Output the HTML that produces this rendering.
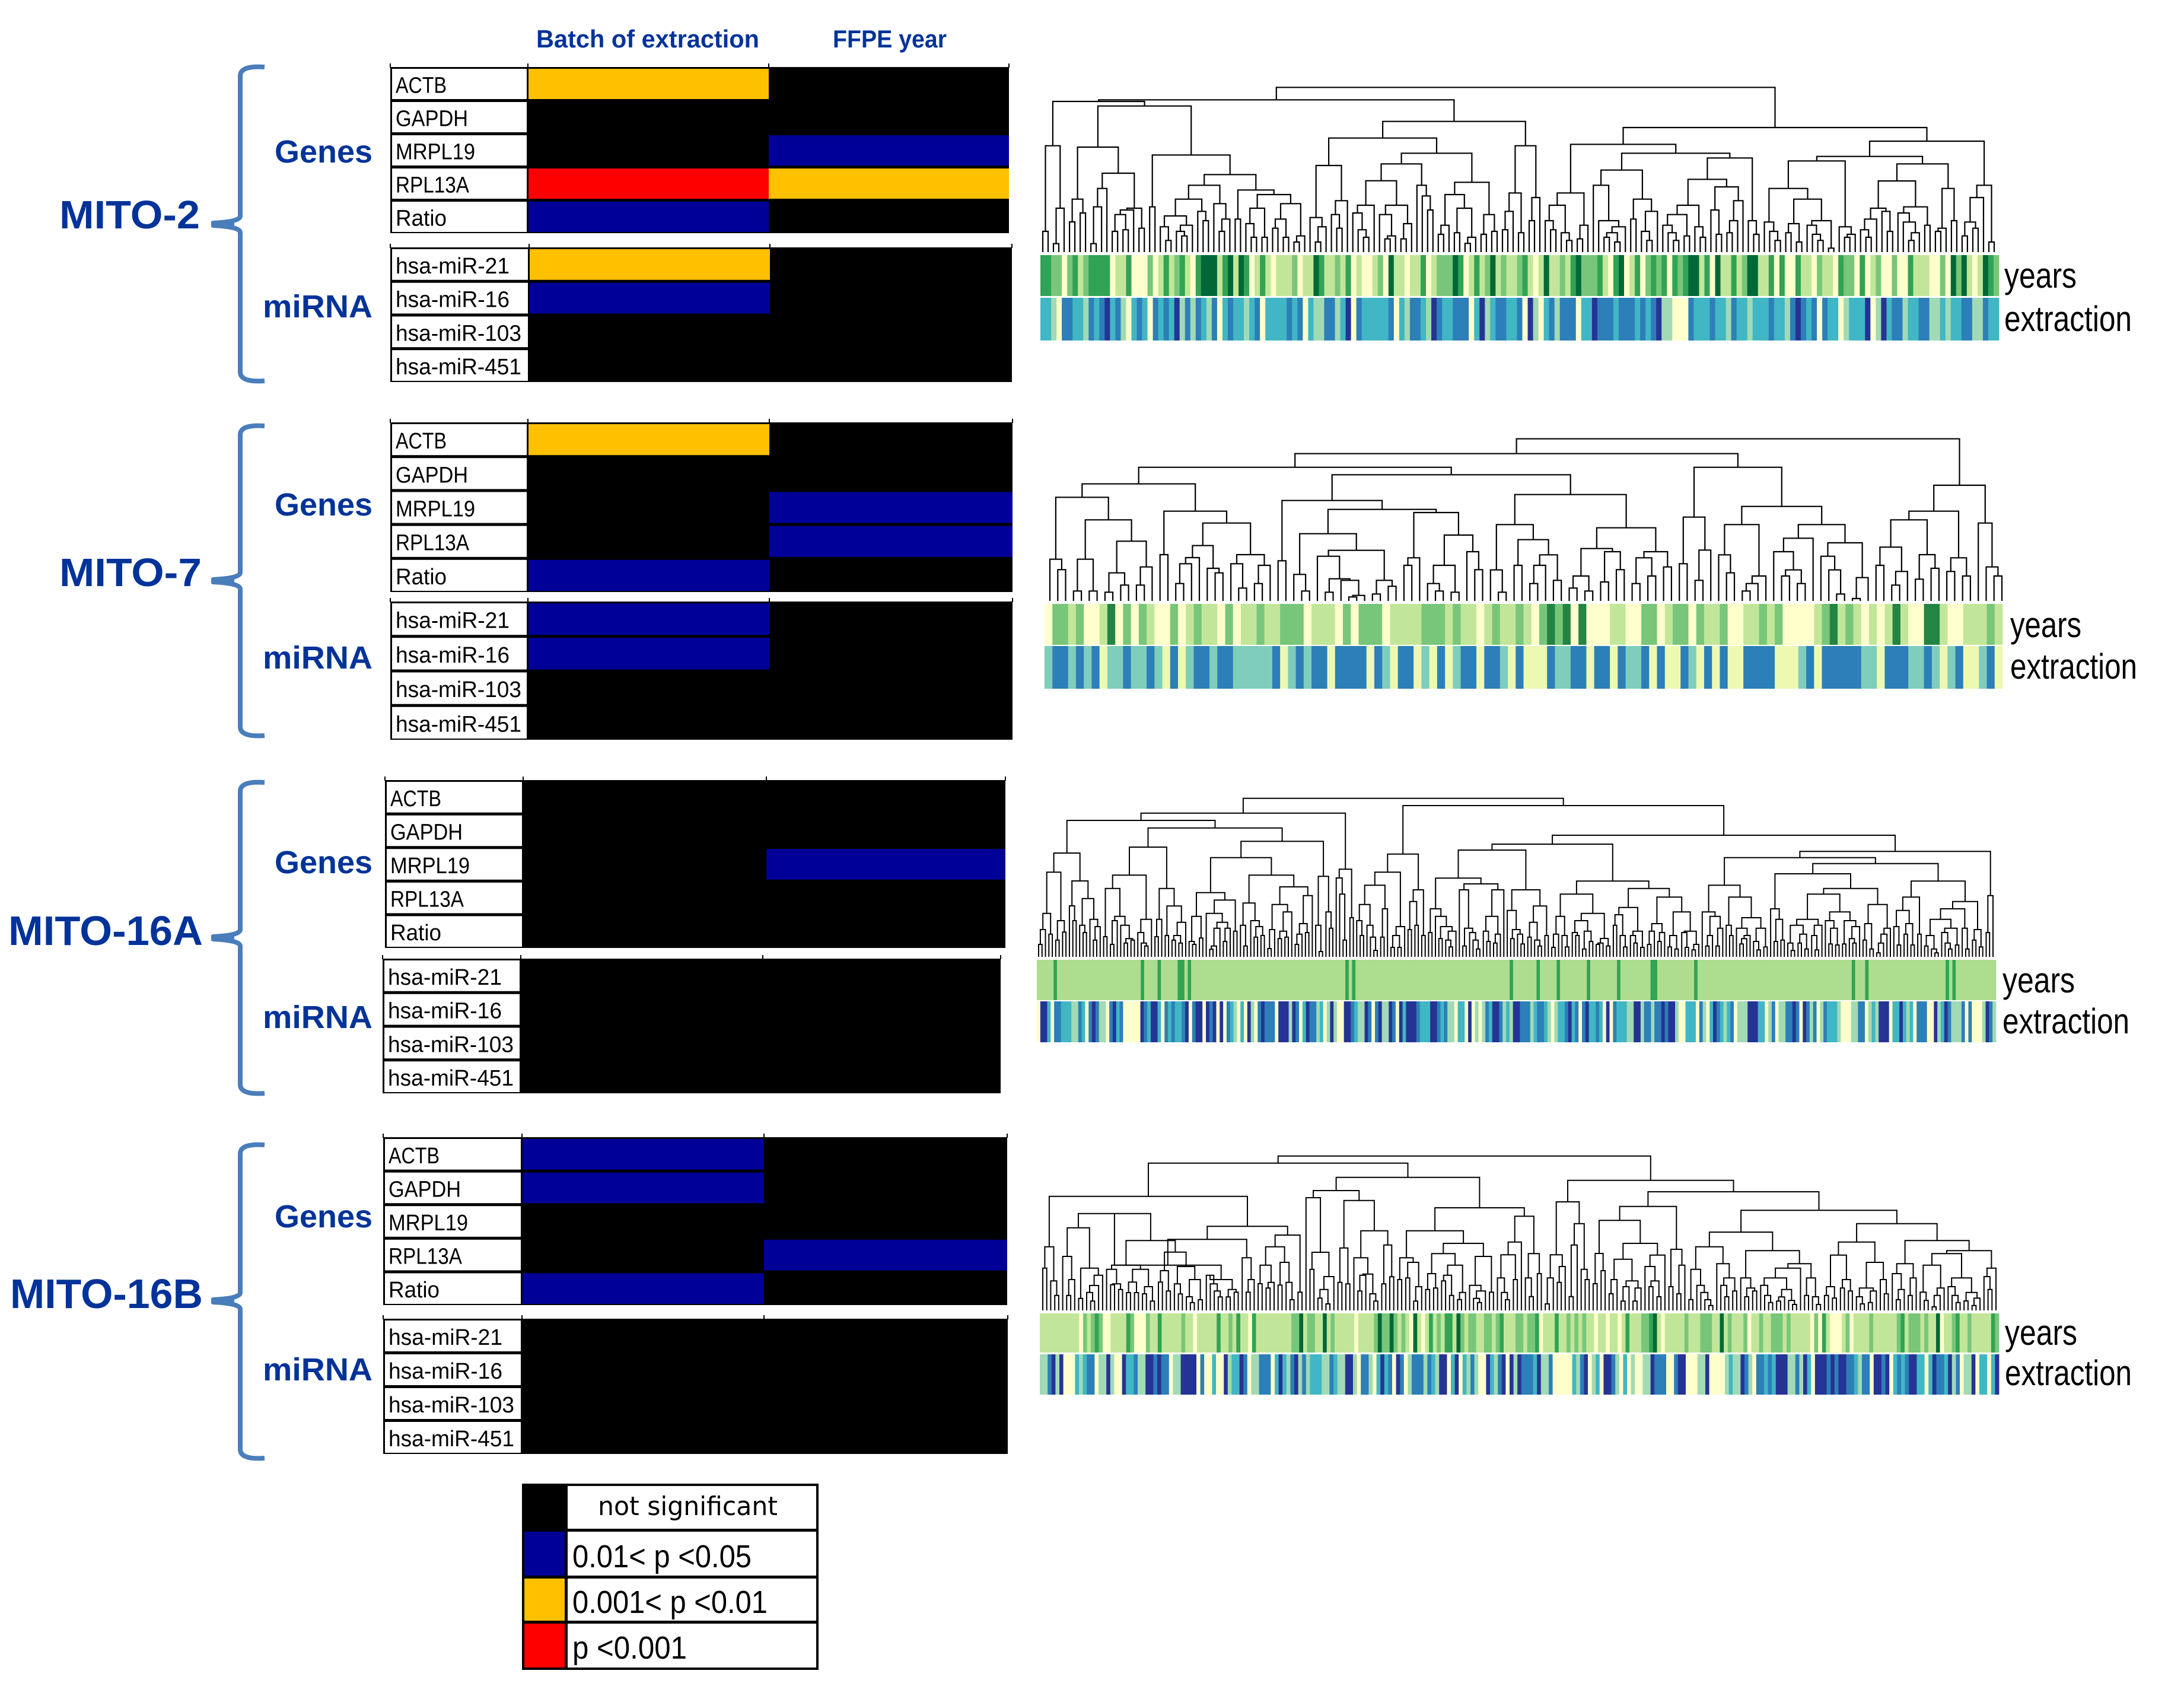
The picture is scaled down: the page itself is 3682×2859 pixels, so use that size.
<!DOCTYPE html>
<html lang="en">
<head>
<meta charset="utf-8">
<title>MITO batch effects heatmaps and dendrograms</title>
<style>
html,body{margin:0;padding:0;background:#fff}
svg{display:block}
.title{font-family:"Liberation Sans",sans-serif;font-weight:700;fill:#003399}
.annot{font-family:"Liberation Sans",sans-serif;fill:#000;font-size:60px}
.leg{font-family:"Liberation Sans",sans-serif;fill:#000;font-size:54px}
</style>
</head>
<body>
<svg id="figure" xmlns="http://www.w3.org/2000/svg" width="3682" height="2859" viewBox="0 0 3682 2859">
<rect width="3682" height="2859" fill="#fff"/>

<text class="title" x="904" y="80" font-size="42" textLength="376" lengthAdjust="spacingAndGlyphs">Batch of extraction</text>
<text class="title" x="1404" y="80" font-size="42" textLength="192" lengthAdjust="spacingAndGlyphs">FFPE year</text>

<text class="title" x="100" y="385" font-size="67" textLength="237" lengthAdjust="spacingAndGlyphs">MITO-2</text>
<text class="title" x="100" y="988" font-size="67" textLength="240" lengthAdjust="spacingAndGlyphs">MITO-7</text>
<text class="title" x="14" y="1593" font-size="70" textLength="328" lengthAdjust="spacingAndGlyphs">MITO-16A</text>
<text class="title" x="17" y="2205" font-size="70" textLength="325" lengthAdjust="spacingAndGlyphs">MITO-16B</text>

<text class="title" x="463" y="274" font-size="54" textLength="165" lengthAdjust="spacingAndGlyphs">Genes</text>
<text class="title" x="443" y="535" font-size="54" textLength="185" lengthAdjust="spacingAndGlyphs">miRNA</text>
<text class="title" x="463" y="869" font-size="54" textLength="165" lengthAdjust="spacingAndGlyphs">Genes</text>
<text class="title" x="443" y="1127" font-size="54" textLength="185" lengthAdjust="spacingAndGlyphs">miRNA</text>
<text class="title" x="463" y="1472" font-size="54" textLength="165" lengthAdjust="spacingAndGlyphs">Genes</text>
<text class="title" x="443" y="1733" font-size="54" textLength="185" lengthAdjust="spacingAndGlyphs">miRNA</text>
<text class="title" x="463" y="2069" font-size="54" textLength="165" lengthAdjust="spacingAndGlyphs">Genes</text>
<text class="title" x="443" y="2327" font-size="54" textLength="185" lengthAdjust="spacingAndGlyphs">miRNA</text>

<g fill="none" stroke="#4a7ebb" stroke-width="8">
<path d="M446,113 Q405,110 405,128 L405,364 Q405,374 358,376 M358,380 Q405,382 405,392 L405,627 Q405,645 446,642"/>
<path d="M446,718 Q405,715 405,733 L405,965 Q405,975 358,977 M358,981 Q405,983 405,993 L405,1225 Q405,1243 446,1240"/>
<path d="M446,1319 Q405,1316 405,1334 L405,1567 Q405,1577 358,1579 M358,1583 Q405,1585 405,1595 L405,1828 Q405,1846 446,1843"/>
<path d="M446,1930 Q405,1927 405,1945 L405,2179 Q405,2189 358,2191 M358,2195 Q405,2197 405,2207 L405,2443 Q405,2461 446,2458"/>
</g>
<g stroke="#4a7ebb" stroke-width="10">
<line x1="356" y1="378" x2="395" y2="378"/>
<line x1="356" y1="979" x2="395" y2="979"/>
<line x1="356" y1="1581" x2="395" y2="1581"/>
<line x1="356" y1="2193" x2="395" y2="2193"/>
</g>

<g id="tables"></g>
<g id="dendrograms"></g>
<g id="strips"></g>

<text class="annot" x="3379" y="485" textLength="122" lengthAdjust="spacingAndGlyphs">years</text>
<text class="annot" x="3379" y="558" textLength="215" lengthAdjust="spacingAndGlyphs">extraction</text>
<text class="annot" x="3389" y="1074" textLength="120" lengthAdjust="spacingAndGlyphs">years</text>
<text class="annot" x="3389" y="1144" textLength="214" lengthAdjust="spacingAndGlyphs">extraction</text>
<text class="annot" x="3376" y="1673" textLength="122" lengthAdjust="spacingAndGlyphs">years</text>
<text class="annot" x="3376" y="1742" textLength="214" lengthAdjust="spacingAndGlyphs">extraction</text>
<text class="annot" x="3380" y="2267" textLength="122" lengthAdjust="spacingAndGlyphs">years</text>
<text class="annot" x="3380" y="2335" textLength="214" lengthAdjust="spacingAndGlyphs">extraction</text>

<g>
<rect x="880" y="2501" width="500" height="314" fill="#000"/>
<rect x="957" y="2505" width="419" height="72" fill="#fff"/>
<rect x="957" y="2582" width="419" height="74" fill="#fff"/>
<rect x="957" y="2661" width="419" height="71" fill="#fff"/>
<rect x="957" y="2737" width="419" height="74" fill="#fff"/>
<rect x="884" y="2582" width="68" height="74" fill="#000099"/>
<rect x="884" y="2661" width="68" height="71" fill="#ffc000"/>
<rect x="884" y="2737" width="68" height="74" fill="#ff0000"/>
<text x="1008" y="2554" font-family="'DejaVu Sans',sans-serif" font-size="44" textLength="303" lengthAdjust="spacingAndGlyphs">not significant</text>
<text class="leg" x="965" y="2642" textLength="302" lengthAdjust="spacingAndGlyphs">0.01&lt; p &lt;0.05</text>
<text class="leg" x="965" y="2719" textLength="329" lengthAdjust="spacingAndGlyphs">0.001&lt; p &lt;0.01</text>
<text class="leg" x="965" y="2796" textLength="193" lengthAdjust="spacingAndGlyphs">p &lt;0.001</text>
</g>
</svg>

<script>
// Heatmap row categories
const geneLabels = ["ACTB","GAPDH","MRPL19","RPL13A","Ratio"];
const mirnaLabels = ["hsa-miR-21","hsa-miR-16","hsa-miR-103","hsa-miR-451"];
// Significance levels: 0 not significant, 1 0.01<p<0.05, 2 0.001<p<0.01, 3 p<0.001 (batch, year)
const mito2Genes = [[2,0],[0,0],[0,1],[3,2],[1,0]];
const mito2Mirna = [[2,0],[1,0],[0,0],[0,0]];
const mito7Genes = [[2,0],[0,0],[0,1],[0,1],[1,0]];
const mito7Mirna = [[1,0],[1,0],[0,0],[0,0]];
const mito16aGenes = [[0,0],[0,0],[0,1],[0,0],[0,0]];
const mito16aMirna = [[0,0],[0,0],[0,0],[0,0]];
const mito16bGenes = [[1,0],[1,0],[0,0],[0,1],[1,0]];
const mito16bMirna = [[0,0],[0,0],[0,0],[0,0]];

// Dendrogram merges in postfix order: 0 is a leaf, any other value merges the top two nodes at that height
const mito2Tree = [0,0,105,0,0,43,0,222,538,
0,0,153,0,0,198,268,0,0,43,0,229,0,322,0,0,105,0,0,113,190,0,213,0,0,121,222,399,531,
0,0,229,0,0,0,59,128,0,0,0,82,105,0,136,183,0,0,0,159,206,268,0,0,0,105,0,167,245,338,0,0,167,0,0,0,75,144,0,0,75,222,0,0,121,0,0,75,167,0,0,51,0,82,245,291,314,392,491,739,762,
0,0,0,51,0,128,175,0,0,0,121,190,0,260,438,
0,0,0,0,75,113,198,0,237,0,0,0,67,0,82,190,0,0,67,0,144,237,361,0,0,0,0,213,284,338,446,0,0,90,0,136,0,0,98,0,0,44,0,75,222,291,0,0,90,0,0,105,190,353,500,577,
0,0,113,0,206,0,0,98,299,0,0,159,0,276,538,661,770,
0,0,0,113,159,0,0,0,59,98,237,0,0,67,0,136,299,
0,0,0,0,75,0,0,51,98,0,128,159,338,0,0,167,0,0,0,59,105,0,206,268,415,
0,0,0,0,59,98,136,0,0,82,190,0,0,0,75,128,237,0,0,0,90,213,0,0,98,0,159,0,260,330,368,0,0,0,90,159,476,500,545,
0,0,0,0,59,105,152,0,0,98,0,0,51,144,0,0,0,0,59,90,136,0,0,20,159,268,322,0,0,0,75,0,90,128,461,0,0,0,75,113,0,167,0,0,0,105,206,222,0,0,0,0,59,0,98,152,198,0,0,136,229,360,0,0,105,0,121,0,0,159,322,446,484,0,0,82,0,0,121,152,0,276,0,0,51,338,561,630,833];

const mito7Tree = [0,0,0,158,211,0,0,50,0,0,50,211,0,0,44,0,0,80,142,0,0,80,0,172,302,410,524,
0,0,234,0,0,88,0,188,0,219,0,0,0,142,165,280,0,0,0,65,188,0,0,88,0,180,234,394,454,592,
0,0,203,0,0,0,50,134,0,0,0,44,0,0,0,20,0,28,104,112,226,0,0,35,0,0,74,104,256,340,0,0,180,0,218,0,0,0,50,88,0,0,44,180,0,0,0,158,249,333,447,463,508,
0,0,0,44,157,0,0,180,0,0,88,0,180,0,0,104,233,310,386,0,0,65,0,0,50,126,0,0,96,0,0,158,249,265,0,0,88,0,0,126,218,0,0,172,249,370,538,638,676,
0,0,188,0,0,104,0,257,424,0,0,0,142,233,0,0,50,0,88,0,126,386,0,0,0,126,0,0,88,157,249,0,317,0,0,0,0,35,157,226,0,0,12,0,118,294,386,478,676,745,
0,0,180,0,0,80,0,149,272,0,0,110,0,0,165,234,410,0,0,149,0,0,126,218,454,0,0,0,0,126,172,394,585,820];

const mito16aTree = [0,0,63,0,138,0,0,115,220,0,0,85,0,0,125,183,428,0,0,0,183,258,0,0,0,123,160,0,0,0,85,0,153,190,295,384,525,
0,0,102,0,0,63,0,183,0,0,0,70,0,0,85,92,160,205,346,0,0,0,0,55,70,123,0,190,413,0,0,102,0,190,0,0,108,0,0,85,0,0,70,108,0,175,257,346,555,
0,0,0,63,78,0,0,95,205,0,0,0,38,0,55,0,145,0,0,78,0,145,175,220,0,0,130,287,325,
0,0,0,55,160,0,0,0,100,0,0,108,153,183,272,0,0,42,0,138,0,0,92,0,0,100,130,0,227,265,0,0,63,0,115,0,0,123,168,0,310,354,413,502,
0,0,0,27,160,0,0,0,145,227,407,584,652,690,
0,0,0,0,85,317,399,0,0,198,443,727,
0,0,0,108,183,0,0,0,0,33,100,160,265,0,0,100,0,243,362,0,0,48,0,0,48,108,0,153,428,0,0,138,0,0,160,280,0,0,108,339,520,
0,0,123,0,0,0,92,0,0,0,50,85,0,130,153,205,243,0,0,0,55,0,0,0,0,40,85,123,145,339,0,0,0,78,130,0,0,70,0,115,205,0,339,369,398,
0,0,0,92,0,0,0,65,115,138,235,0,0,100,0,0,0,55,85,175,0,0,108,257,339,540,
0,0,48,0,115,0,0,0,50,108,205,0,0,0,108,123,0,0,40,0,0,78,130,183,0,0,63,0,70,0,0,55,93,220,317,
0,0,160,0,0,0,50,108,213,0,0,0,70,108,0,0,48,130,250,0,0,63,0,130,0,0,78,0,123,168,0,0,50,0,0,40,108,0,0,0,48,123,0,0,35,0,63,130,227,302,346,383,570,
0,0,0,55,0,108,0,0,55,0,145,205,227,0,0,0,108,160,0,0,0,65,0,92,0,108,145,0,0,0,35,78,0,0,50,145,198,302,362,
0,0,0,78,0,0,85,190,243,0,0,0,32,70,0,0,70,0,0,40,115,160,0,0,0,35,108,0,160,190,0,0,0,65,0,0,60,145,183,0,0,65,0,0,0,70,92,0,153,183,227,317,
0,0,85,0,0,40,168,0,0,20,0,70,0,115,0,145,265,346,420,
0,0,0,60,153,0,0,115,0,0,60,168,235,0,0,115,302,0,0,55,0,0,0,20,40,108,0,0,0,0,40,70,123,0,0,60,145,190,0,0,0,40,145,243,0,0,85,0,0,50,138,280,383,472,502,
0,0,123,0,310,533,615,765,802];

const mito16bTree = [0,0,214,0,0,0,76,149,322,
0,0,0,76,0,156,273,0,0,61,0,0,0,47,91,0,126,0,178,214,418,
0,0,0,130,0,0,106,134,208,0,0,90,0,0,90,143,0,0,84,0,0,47,120,208,229,
0,0,143,0,0,98,201,0,0,0,83,134,0,0,0,40,69,0,0,54,156,222,295,353,490,
0,0,0,0,0,68,98,134,178,0,0,68,0,0,92,106,156,229,0,0,0,92,0,156,266,359,
0,0,135,0,0,113,0,142,229,0,0,128,0,0,0,54,142,243,322,0,0,92,381,425,577,643,
0,0,0,208,0,0,62,0,0,33,106,0,171,294,570,
0,0,142,0,0,134,316,0,0,0,98,0,178,0,0,0,47,84,184,266,0,0,134,0,0,170,331,403,556,606,
0,0,156,0,0,164,0,0,47,0,120,243,266,
0,0,106,0,0,113,186,0,0,149,0,0,76,178,0,0,55,0,91,229,287,0,0,0,0,40,61,0,98,127,0,0,92,273,339,403,
0,0,0,0,54,91,164,0,0,156,281,0,346,0,0,0,70,164,0,0,186,287,476,519,673,745,
0,0,33,0,164,0,0,142,0,222,281,0,0,70,0,331,0,0,0,156,208,439,549,
0,0,135,0,0,201,288,0,0,84,0,156,0,0,47,0,120,0,0,47,0,113,149,259,0,0,0,120,0,0,69,149,222,0,280,339,455,
0,0,120,0,0,84,0,229,309,526,
0,0,55,0,0,0,0,0,25,54,91,127,208,0,0,0,0,69,127,0,0,98,164,236,322,
0,0,0,69,0,0,98,113,164,0,0,0,0,40,76,127,0,0,47,0,68,0,0,0,30,50,106,164,0,214,0,0,76,0,0,0,30,69,164,236,302,396,
0,0,76,0,0,62,120,0,0,113,0,0,98,156,280,0,0,0,33,69,0,0,40,0,98,113,0,0,0,84,156,243,346,
0,0,0,54,0,106,186,0,0,76,0,164,236,
0,0,0,50,92,0,0,18,0,76,0,113,229,0,0,0,0,40,76,120,0,0,48,0,0,25,0,62,91,164,287,0,0,0,106,171,0,214,302,353,439,506,600,658,781];

// Annotation strip classes per sample
const mito2Years = [3,3,2,2,0,2,3,1,2,3,3,3,3,0,1,1,3,0,0,0,2,0,1,3,1,2,3,1,0,3,4,4,4,1,3,4,1,4,3,0,1,3,1,0,1,1,1,2,0,1,1,4,3,1,1,2,1,3,0,1,0,0,1,2,0,4,1,1,0,1,1,3,0,1,2,2,2,4,3,0,1,3,1,2,4,1,2,1,1,2,3,1,0,1,4,1,1,2,1,3,4,2,2,2,3,1,0,
3,4,0,1,3,0,2,3,2,3,0,3,2,3,4,4,1,3,0,4,1,1,3,1,2,4,4,1,1,3,0,3,0,0,3,1,1,0,2,1,1,0,3,2,2,0,3,0,1,2,0,0,2,0,0,3,1,1,1,0,0,2,0,4,2,4,1,0,1,4,3,2];
const mito2Extraction = [2,2,1,0,3,3,2,2,1,3,2,3,4,2,3,1,0,2,3,2,0,3,2,3,2,4,1,3,1,3,2,1,3,0,2,3,2,2,1,2,3,0,2,2,2,2,3,2,3,0,2,1,1,3,3,1,2,4,0,3,2,2,2,2,2,3,0,2,1,3,3,2,1,4,3,2,2,3,3,3,0,2,4,1,2,3,3,2,2,3,0,4,1,0,2,3,1,3,3,3,0,2,2,4,3,3,3,
2,3,3,3,2,3,2,3,4,1,1,0,0,0,3,2,2,2,3,2,2,1,3,2,2,1,2,2,2,3,2,2,1,3,4,3,2,3,0,3,2,2,0,1,2,2,2,4,0,1,4,2,3,3,1,2,2,3,3,1,1,2,1,2,2,3,3,1,1,3,2,2];
const mito7Years = [0,2,2,1,2,0,0,1,3,0,2,0,2,1,0,0,2,0,1,2,1,1,0,2,0,1,1,2,1,1,2,2,2,0,1,1,1,0,2,0,2,2,2,0,1,1,1,1,2,2,2,1,2,1,1,0,1,2,1,1,2,1,0,2,3,2,3,0,3,0,0,0,1,1,0,0,2,2,0,1,2,2,0,2,1,1,2,0,0,1,1,2,1,2,0,0,0,0,1,2,3,1,2,1,0,1,0,1,3,1,0,0,3,3,1,0,0,1,1,1,2,1];
const mito7Extraction = [1,2,2,1,2,1,2,0,1,1,2,1,1,2,1,0,2,0,1,2,2,1,2,2,1,1,1,1,1,2,0,1,2,1,2,2,0,2,2,2,2,0,2,1,0,2,2,0,1,0,2,0,1,2,2,0,2,2,1,0,2,0,0,0,2,1,1,2,2,0,2,2,0,2,1,1,2,0,2,0,0,2,1,0,2,0,2,0,0,2,2,2,2,0,0,0,1,2,0,2,2,2,2,2,1,1,0,2,2,2,1,1,2,1,0,1,2,0,0,1,2,0];
const mito16aYears = [1,1,1,1,1,2,1,1,1,1,1,1,1,1,1,1,1,1,1,1,1,1,1,1,1,1,1,1,1,1,1,2,1,1,1,1,2,1,1,1,1,1,2,2,1,2,1,1,1,1,
1,1,1,1,1,1,1,1,1,1,1,1,1,1,1,1,1,1,1,1,1,1,1,1,1,1,1,1,1,1,1,1,1,1,1,1,1,1,1,1,1,1,2,1,2,1,1,1,1,1,
1,1,1,1,1,1,1,1,1,1,1,1,1,1,1,1,1,1,1,1,1,1,1,1,1,1,1,1,1,1,1,1,1,1,1,1,1,1,1,1,1,2,1,1,1,1,1,1,1,2,
1,1,1,1,1,2,1,1,1,1,1,1,1,1,2,1,1,1,1,1,1,1,1,2,1,1,1,1,1,1,1,1,1,2,2,1,1,1,1,1,1,1,1,1,1,1,2,1,1,1,
1,1,1,1,1,1,1,1,1,1,1,1,1,1,1,1,1,1,1,1,1,1,1,1,1,1,1,1,1,1,1,1,1,1,1,1,1,1,1,1,1,1,1,2,1,1,1,2,1,1,
1,1,1,1,1,1,1,1,1,1,1,1,1,1,1,1,1,1,1,1,1,2,1,2,1,1,1,1,1,1,1,1,1,1,1,1];
const mito16aExtraction = [0,4,4,2,0,3,3,2,2,2,1,1,3,2,0,3,4,3,1,1,0,3,4,2,3,0,0,0,0,0,4,3,2,4,4,2,0,3,2,3,2,2,3,4,0,3,4,4,0,4,3,4,0,4,0,3,2,1,0,2,0,4,1,0,3,4,3,3,3,0,4,4,4,1,4,3,0,2,4,3,3,1,2,0,1,4,1,0,0,4,4,3,2,1,1,4,3,0,3,4,1,1,4,3,0,4,2,4,4,4,3,2,2,2,4,4,3,2,3,1,1,0,2,2,0,4,0,1,0,1,3,2,4,4,3,1,2,1,
4,4,3,3,3,1,2,3,3,2,1,0,1,2,2,3,4,2,3,0,3,4,2,2,3,2,0,4,0,3,2,2,2,1,1,4,4,1,3,3,1,3,3,4,3,4,4,1,0,0,2,2,2,0,3,1,0,2,4,3,2,1,2,3,0,1,1,1,4,4,4,2,2,0,1,3,0,1,1,3,3,4,3,0,4,3,1,3,0,1,3,2,2,2,1,0,0,0,1,1,3,3,0,1,2,1,4,4,4,0,2,2,4,2,1,2,0,3,3,3,0,0,4,1,2,4,3,1,1,1,3,0,3,0,0,0,1,4,3,1];
const mito16bYears = [1,1,1,1,1,1,1,1,1,1,0,2,1,2,3,2,0,0,1,1,1,1,3,2,0,0,0,2,1,1,3,1,1,1,1,1,2,1,1,0,1,1,1,1,1,3,1,1,2,1,3,1,1,0,3,1,1,1,1,1,1,1,1,1,2,2,4,1,2,2,1,1,4,1,2,1,1,1,1,1,0,1,1,1,1,2,4,2,2,4,2,1,2,1,0,4,1,0,1,3,1,2,1,3,3,1,4,2,1,2,2,1,1,2,2,1,2,3,1,1,1,2,2,
1,2,2,3,0,1,1,1,3,1,1,2,1,2,1,2,1,1,0,1,1,0,1,1,0,1,3,1,1,1,2,2,3,4,1,0,1,1,1,1,1,2,1,1,1,2,2,2,1,1,4,1,2,1,1,1,2,0,1,1,2,1,1,2,2,2,1,2,1,1,1,1,1,0,2,0,3,1,0,0,0,1,2,0,1,1,1,1,2,1,1,1,1,1,1,2,3,1,2,2,2,1,2,1,1,4,0,1,1,2,3,1,1,2,1,1,1,1,1,3,2];
const mito16bExtraction = [1,1,3,4,1,4,0,0,0,2,1,2,3,3,0,1,1,4,1,0,0,4,2,2,3,1,1,4,4,3,4,3,3,0,1,1,4,4,4,4,0,3,0,0,2,0,0,4,1,2,2,4,3,0,1,1,3,3,3,0,2,4,2,1,3,4,1,3,1,2,2,2,1,1,3,2,1,1,4,4,1,0,3,3,1,0,2,4,2,3,0,4,3,0,1,3,3,3,1,3,2,1,4,4,0,2,4,0,2,1,3,1,0,0,4,2,1,3,4,0,4,1,4,3,
3,3,2,4,1,1,3,0,0,0,0,0,2,1,3,4,0,1,2,0,4,4,3,1,0,2,0,1,0,0,1,1,4,3,3,3,0,0,3,4,4,0,0,0,1,1,4,0,0,0,0,1,2,1,1,4,3,1,0,3,3,2,3,2,4,4,4,1,1,3,1,4,2,0,4,4,4,3,4,3,4,4,3,3,2,1,3,3,0,4,4,3,4,0,2,3,2,3,4,4,2,2,0,2,4,3,3,2,4,1,3,0,1,1,4,0,2,2,0,2,4];

const SVG_NS = "http://www.w3.org/2000/svg";
const levelColors = [null,"#000099","#ffc000","#ff0000"];
const yearsFive = ["#ffffcc","#c2e699","#78c679","#31a354","#006837"];
const yearsFour = ["#ffffcc","#c2e699","#78c679","#238443"];
const yearsThree = ["#f7fcb9","#addd8e","#31a354"];
const extractionFive = ["#ffffcc","#a1dab4","#41b6c4","#2c7fb8","#253494"];
const extractionThree = ["#edf8b1","#7fcdbb","#2c7fb8"];
const labelLength = {"ACTB":86,"GAPDH":122,"MRPL19":134,"RPL13A":124,"Ratio":86,"hsa-miR-21":192,"hsa-miR-16":192,"hsa-miR-103":212,"hsa-miR-451":212};

function make(tag, attrs, parent){
  const el = document.createElementNS(SVG_NS, tag);
  for (const k in attrs) el.setAttribute(k, attrs[k]);
  parent.appendChild(el);
  return el;
}

function drawTable(prefix, box, labels, values){
  const parent = document.getElementById("tables");
  const block = make("rect", {x:box.x0, y:box.top, width:box.x3-box.x0, height:box.bottom-box.top, fill:"#000"}, parent);
  
  
  [box.x0, box.x1, box.x2, box.x3].forEach(function(tx){
    const tick = make("rect", {x:tx-1, y:box.top-6, width:2, height:7, fill:"#000"}, parent);
    
    
  });
  const rowH = (box.bottom-box.top)/labels.length;
  labels.forEach(function(label, r){
    const y = box.top + r*rowH + 3;
    const h = rowH - 5;
    const cell = make("rect", {x:box.x0+3, y:y, width:box.x1-box.x0-5, height:h, fill:"#fff"}, parent);
    
    
    const t = make("text", {x:box.x0+9, y:y+h/2+15, "font-family":"'Liberation Sans',sans-serif", "font-size":38, fill:"#000", textLength:labelLength[label], lengthAdjust:"spacingAndGlyphs"}, parent);
    t.textContent = label;
    
    
    values[r].forEach(function(level, c){
      if (!level) return;
      const xa = c === 0 ? box.x1+1 : box.x2;
      const xb = c === 0 ? box.x2 : box.x3;
      const hc = make("rect", {x:xa, y:y, width:xb-xa, height:h, fill:levelColors[level]}, parent);
      
      
    });
  });
}

function countLeaves(tree){
  return tree.filter(function(v){ return v === 0; }).length;
}

function drawDendrogram(tree, box){
  const parent = document.getElementById("dendrograms");
  const n = countLeaves(tree);
  const xScale = function(i){ return box.x0 + (box.x1-box.x0)*i/(n-1); };
  const yScale = function(v){ return box.base - v/3; };
  const stack = [];
  let leaf = 0;
  function merge(v){
    const b = stack.pop();
    const a = stack.pop();
    const y = yScale(v);
    const d = "M"+a.x.toFixed(1)+" "+yScale(a.v).toFixed(1)+"V"+y.toFixed(1)+"H"+b.x.toFixed(1)+"V"+yScale(b.v).toFixed(1);
    const p = make("path", {d:d, fill:"none", stroke:"#000", "stroke-width":box.sw}, parent);
    
    
    stack.push({x:(a.x+b.x)/2, v:v});
  }
  tree.forEach(function(v){
    if (v === 0) { stack.push({x:xScale(leaf), v:0}); leaf++; }
    else if (stack.length >= 2) merge(v);
  });
  while (stack.length > 1) merge(Math.max.apply(null, tree));
}

function drawStrip(values, palette, box, yTop, yBottom){
  const parent = document.getElementById("strips");
  const w = (box.x1-box.x0)/values.length;
  values.forEach(function(level, i){
    const r = make("rect", {x:(box.x0+i*w).toFixed(2), y:yTop, width:(w+0.4).toFixed(2), height:yBottom-yTop, fill:palette[level]}, parent);
    
    
  });
}

drawTable("mito2-genes", {x0:658,x1:890,x2:1296,x3:1701,top:113,bottom:393}, geneLabels, mito2Genes);
drawTable("mito2-mirna", {x0:658,x1:892,x2:1298,x3:1706,top:417,bottom:644}, mirnaLabels, mito2Mirna);
drawTable("mito7-genes", {x0:658,x1:890,x2:1297,x3:1707,top:712,bottom:998}, geneLabels, mito7Genes);
drawTable("mito7-mirna", {x0:658,x1:890,x2:1297,x3:1707,top:1014,bottom:1247}, mirnaLabels, mito7Mirna);
drawTable("mito16a-genes", {x0:649,x1:882,x2:1292,x3:1695,top:1315,bottom:1598}, geneLabels, mito16aGenes);
drawTable("mito16a-mirna", {x0:645,x1:878,x2:1286,x3:1687,top:1616,bottom:1843}, mirnaLabels, mito16aMirna);
drawTable("mito16b-genes", {x0:646,x1:880,x2:1288,x3:1698,top:1917,bottom:2200}, geneLabels, mito16bGenes);
drawTable("mito16b-mirna", {x0:646,x1:880,x2:1288,x3:1699,top:2223,bottom:2451}, mirnaLabels, mito16bMirna);

drawDendrogram(mito2Tree, {x0:1758,x1:3362,base:425,sw:2.2});
drawDendrogram(mito7Tree, {x0:1770,x1:3375,base:1013,sw:2.2});
drawDendrogram(mito16aTree, {x0:1751,x1:3360,base:1613,sw:2});
drawDendrogram(mito16bTree, {x0:1758,x1:3365,base:2209,sw:2});

drawStrip(mito2Years, yearsFive, {x0:1754,x1:3370}, 430, 499);
drawStrip(mito2Extraction, extractionFive, {x0:1754,x1:3370}, 502, 574);
drawStrip(mito7Years, yearsFour, {x0:1761,x1:3376}, 1018, 1087);
drawStrip(mito7Extraction, extractionThree, {x0:1761,x1:3376}, 1089, 1161);
drawStrip(mito16aYears, yearsThree, {x0:1748,x1:3365}, 1618, 1686);
drawStrip(mito16aExtraction, extractionFive, {x0:1748,x1:3365}, 1688, 1757);
drawStrip(mito16bYears, yearsFive, {x0:1753,x1:3370}, 2214, 2280);
drawStrip(mito16bExtraction, extractionFive, {x0:1753,x1:3370}, 2283, 2351);
</script>
</body>
</html>
